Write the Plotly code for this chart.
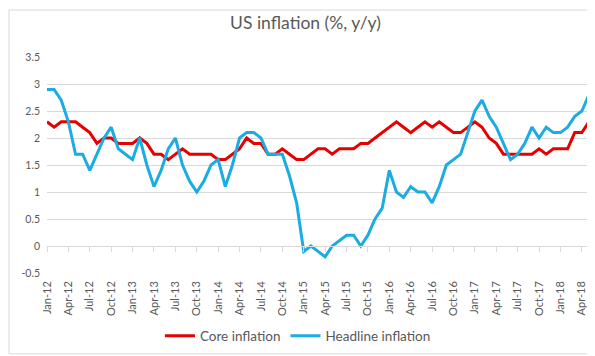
import plotly.graph_objects as go

months = ["Jan", "Feb", "Mar", "Apr", "May", "Jun", "Jul", "Aug", "Sep", "Oct", "Nov", "Dec"]
categories = [f"{m}-{y:02d}" for y in range(12, 19) for m in months][:77]  # Jan-12 .. May-18

core_inflation = [
    2.3, 2.2, 2.3, 2.3, 2.3, 2.2, 2.1, 1.9, 2.0, 2.0, 1.9, 1.9,
    1.9, 2.0, 1.9, 1.7, 1.7, 1.6, 1.7, 1.8, 1.7, 1.7, 1.7, 1.7,
    1.6, 1.6, 1.7, 1.8, 2.0, 1.9, 1.9, 1.7, 1.7, 1.8, 1.7, 1.6,
    1.6, 1.7, 1.8, 1.8, 1.7, 1.8, 1.8, 1.8, 1.9, 1.9, 2.0, 2.1,
    2.2, 2.3, 2.2, 2.1, 2.2, 2.3, 2.2, 2.3, 2.2, 2.1, 2.1, 2.2,
    2.3, 2.2, 2.0, 1.9, 1.7, 1.7, 1.7, 1.7, 1.7, 1.8, 1.7, 1.8,
    1.8, 1.8, 2.1, 2.1, 2.3,
]
headline_inflation = [
    2.9, 2.9, 2.7, 2.3, 1.7, 1.7, 1.4, 1.7, 2.0, 2.2, 1.8, 1.7,
    1.6, 2.0, 1.5, 1.1, 1.4, 1.8, 2.0, 1.5, 1.2, 1.0, 1.2, 1.5,
    1.6, 1.1, 1.5, 2.0, 2.1, 2.1, 2.0, 1.7, 1.7, 1.7, 1.3, 0.8,
    -0.1, 0.0, -0.1, -0.2, 0.0, 0.1, 0.2, 0.2, 0.0, 0.2, 0.5, 0.7,
    1.4, 1.0, 0.9, 1.1, 1.0, 1.0, 0.8, 1.1, 1.5, 1.6, 1.7, 2.1,
    2.5, 2.7, 2.4, 2.2, 1.9, 1.6, 1.7, 1.9, 2.2, 2.0, 2.2, 2.1,
    2.1, 2.2, 2.4, 2.5, 2.8,
]
tick_labels = categories[::3]  # Jan-12, Apr-12, ..., Apr-18
y_ticks = [-0.5, 0, 0.5, 1, 1.5, 2, 2.5, 3, 3.5]

x_idx = list(range(len(categories)))
tick_pos = x_idx[::3]

FONT = "Lato, 'Open Sans', sans-serif"
GREY = "#595959"
GRID = "#D9D9D9"

fig = go.Figure()
fig.add_trace(go.Scatter(
    x=x_idx, y=core_inflation, mode="lines", name="Core inflation",
    line=dict(color="#E60000", width=3), customdata=categories,
    hovertemplate="%{customdata}: %{y}<extra>Core</extra>",
))
fig.add_trace(go.Scatter(
    x=x_idx, y=headline_inflation, mode="lines", name="Headline inflation",
    xaxis="x2",
    line=dict(color="#1AACE2", width=3), customdata=categories,
    hovertemplate="%{customdata}: %{y}<extra>Headline</extra>",
))

L, R, T, B = 38.5, 14, 49, 84
W, H = 595, 356
pw, ph = W - L - R, H - T - B
x_range = [0, len(categories) - 1]

fig.update_layout(
    width=W, height=H,
    margin=dict(l=L, r=R, t=T, b=B),
    paper_bgcolor="white", plot_bgcolor="white",
    font=dict(family=FONT, color=GREY),
    title=dict(text="US inflation (%, y/y)", x=0.5, xanchor="center",
               yref="container", y=1 - 9 / H, yanchor="top",
               font=dict(size=17.5, color=GREY, family=FONT)),
    xaxis=dict(
        range=x_range, tickmode="array",
        tickvals=tick_pos, ticktext=tick_labels, tickangle=-90,
        tickfont=dict(size=11, color=GREY), showgrid=False,
        zeroline=False, showline=False, ticks="", ticklabelstandoff=5,
    ),
    xaxis2=dict(
        range=x_range, overlaying="x", anchor="free",
        position=(0 - y_ticks[0]) / (y_ticks[-1] - y_ticks[0]),
        tickmode="array", tickvals=tick_pos, showticklabels=False,
        ticks="outside", ticklen=5, tickcolor=GRID, tickwidth=1,
        showline=True, linecolor=GRID, linewidth=1, showgrid=False, zeroline=False,
    ),
    yaxis=dict(
        range=[y_ticks[0], y_ticks[-1]], tickmode="array", tickvals=y_ticks,
        ticktext=[f"{v:g}" for v in y_ticks],
        tickfont=dict(size=10.5, color=GREY), showgrid=True, gridcolor=GRID,
        gridwidth=1, zeroline=False, showline=False, ticks="", ticklabelstandoff=6,
    ),
    legend=dict(orientation="h", x=0.463, xanchor="center", y=-(337 - (T + ph)) / ph,
                yanchor="middle", font=dict(size=13.5, color=GREY),
                itemwidth=30, tracegroupgap=0),
    showlegend=True,
    shapes=[dict(type="rect", xref="paper", yref="paper",
                 x0=(0.5 - L) / pw, x1=(W - 0.5 - L) / pw,
                 y0=-(H - 0.5 - T - ph) / ph, y1=(T + ph - 0.5) / ph,
                 line=dict(color=GRID, width=1), layer="below")],
)

fig.write_html("out.html")
